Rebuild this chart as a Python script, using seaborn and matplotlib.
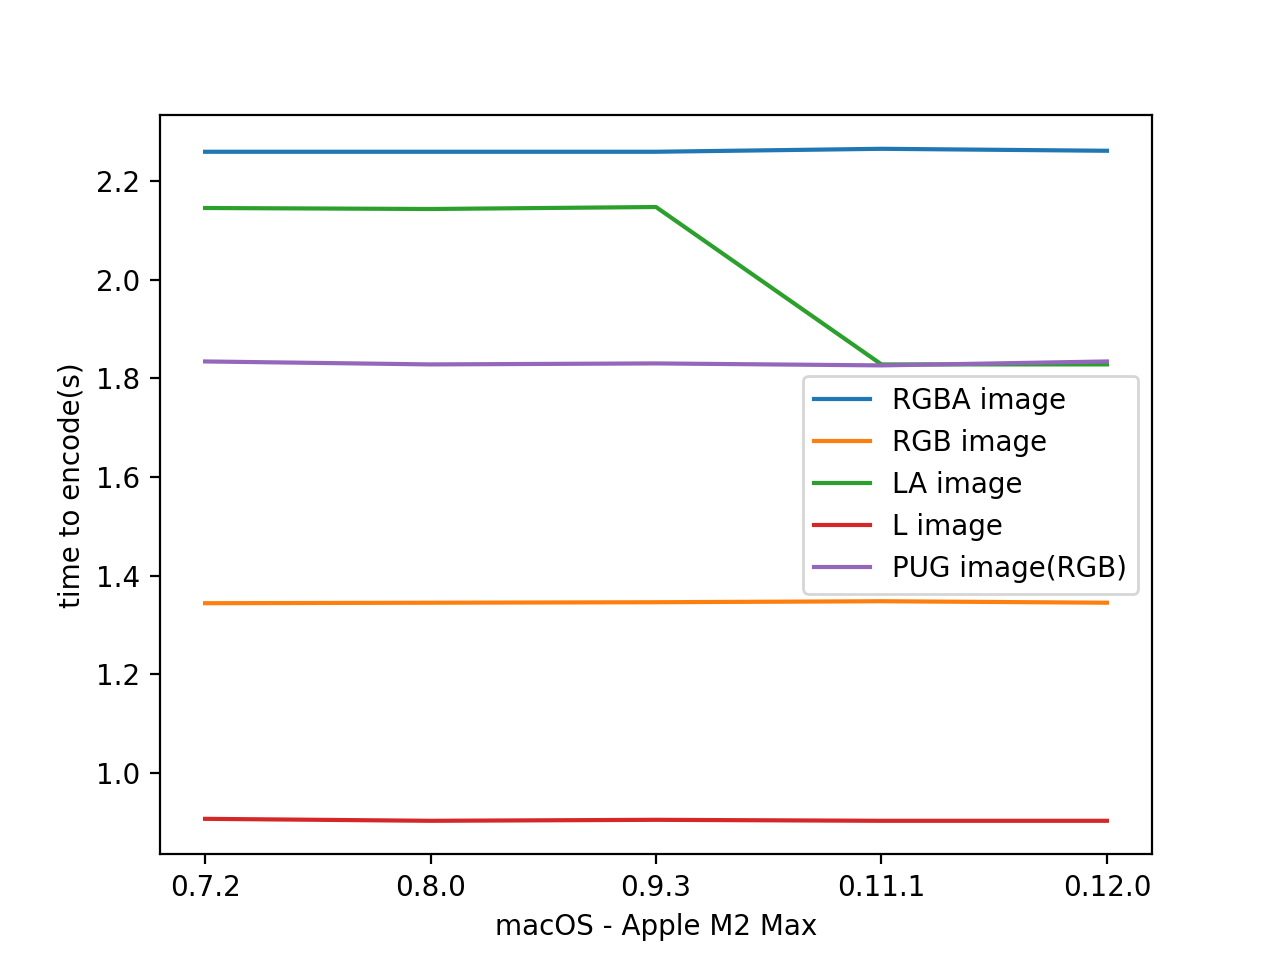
import pandas as pd
import seaborn as sns
import matplotlib.pyplot as plt

# versions on the x axis
versions = ["0.7.2", "0.8.0", "0.9.3", "0.11.1", "0.12.0"]

# time to encode (s) per image type
rgba = [2.259, 2.259, 2.259, 2.265, 2.261]
rgb = [1.344, 1.345, 1.346, 1.348, 1.345]
la = [2.145, 2.143, 2.147, 1.828, 1.828]
l_img = [0.907, 0.903, 0.905, 0.903, 0.903]
pug = [1.834, 1.828, 1.830, 1.826, 1.834]

series = {
    "RGBA image": rgba,
    "RGB image": rgb,
    "LA image": la,
    "L image": l_img,
    "PUG image(RGB)": pug,
}

df = pd.DataFrame(
    [(v, name, t) for name, vals in series.items() for v, t in zip(versions, vals)],
    columns=["version", "kind", "time"],
)

fig, ax = plt.subplots(figsize=(6.4, 4.8), dpi=200)
sns.lineplot(data=df, x="version", y="time", hue="kind", palette="tab10", ax=ax)

ax.set_xlabel("macOS - Apple M2 Max")
ax.set_ylabel("time to encode(s)")
ax.legend(loc="center right")

plt.savefig("out.png")
